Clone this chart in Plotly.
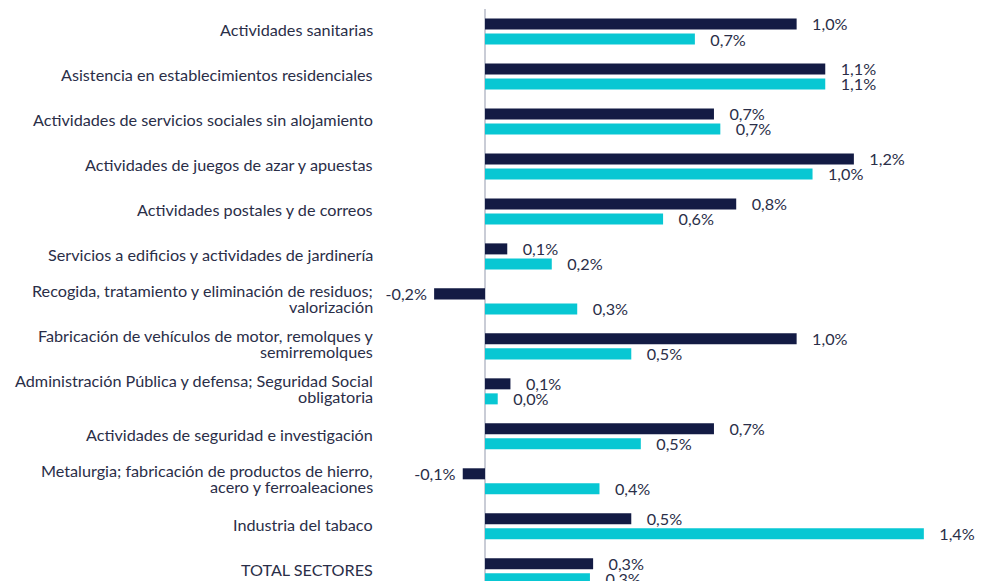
import plotly.graph_objects as go

categories = [
    "Actividades sanitarias",
    "Asistencia en establecimientos residenciales",
    "Actividades de servicios sociales sin alojamiento",
    "Actividades de juegos de azar y apuestas",
    "Actividades postales y de correos",
    "Servicios a edificios y actividades de jardinería",
    "Recogida, tratamiento y eliminación de residuos;<br>valorización",
    "Fabricación de vehículos de motor, remolques y<br>semirremolques",
    "Administración Pública y defensa; Seguridad Social<br>obligatoria",
    "Actividades de seguridad e investigación",
    "Metalurgia; fabricación de productos de hierro,<br>acero y ferroaleaciones",
    "Industria del tabaco",
    "TOTAL SECTORES",
]

serie_1 = [0.98, 1.07, 0.72, 1.16, 0.79, 0.07, -0.16, 0.98, 0.08, 0.72, -0.07, 0.46, 0.34]
serie_2 = [0.66, 1.07, 0.74, 1.03, 0.56, 0.21, 0.29, 0.46, 0.04, 0.49, 0.36, 1.38, 0.33]

NAVY = "#131B44"
CYAN = "#08C7D3"
TEXT = "#2A2E48"
FONT = "Lato"
FS = 16.2


def labels(values):
    out = []
    for v in values:
        s = f"{v:.1f}".replace(".", ",") + "%"
        if v >= 0:
            out.append("\u00a0\u00a0\u00a0" + s)
        else:
            out.append(s + "\u00a0")
    return out


fig = go.Figure()
for vals, col in [(serie_1, NAVY), (serie_2, CYAN)]:
    fig.add_trace(go.Bar(
        y=categories, x=vals, orientation="h",
        marker=dict(color=col, line=dict(width=0)),
        text=labels(vals), textposition="outside", constraintext="none",
        textfont=dict(family=FONT, size=FS, color=TEXT),
        cliponaxis=False, showlegend=False,
    ))

# category labels as annotations (tighter line spacing for two-line labels)
for cat in categories:
    lines = cat.split("<br>")
    shifts = [0] if len(lines) == 1 else [8.5, -7.5]
    for line, ys in zip(lines, shifts):
        fig.add_annotation(
            text=line, xref="paper", x=0, xanchor="right", xshift=-5,
            yref="y", y=cat, yanchor="middle", yshift=ys + 2,
            showarrow=False, font=dict(family=FONT, size=FS, color=TEXT),
        )

# page has 8px body margin: figure coords = screen - 8
OFF = 8
L, R = 380 - OFF, 986
zero_px, px_per_unit = 485 - OFF, 318

fig.update_layout(
    width=986, height=581,
    margin=dict(l=L, r=986 - R, t=9 - OFF, b=0, pad=0),
    barmode="group", bargap=0.332, bargroupgap=0.267,
    plot_bgcolor="white", paper_bgcolor="white",
    font=dict(family=FONT, size=FS, color=TEXT),
    xaxis=dict(range=[(L - zero_px) / px_per_unit, (R - zero_px) / px_per_unit],
               showgrid=False, showticklabels=False, ticks="", automargin=False,
               zeroline=True, zerolinecolor="#C9CCD6", zerolinewidth=1.5),
    yaxis=dict(range=[12.394, -0.5], showgrid=False, ticks="", automargin=False,
               showticklabels=False),
)

fig.write_html("out.html")
